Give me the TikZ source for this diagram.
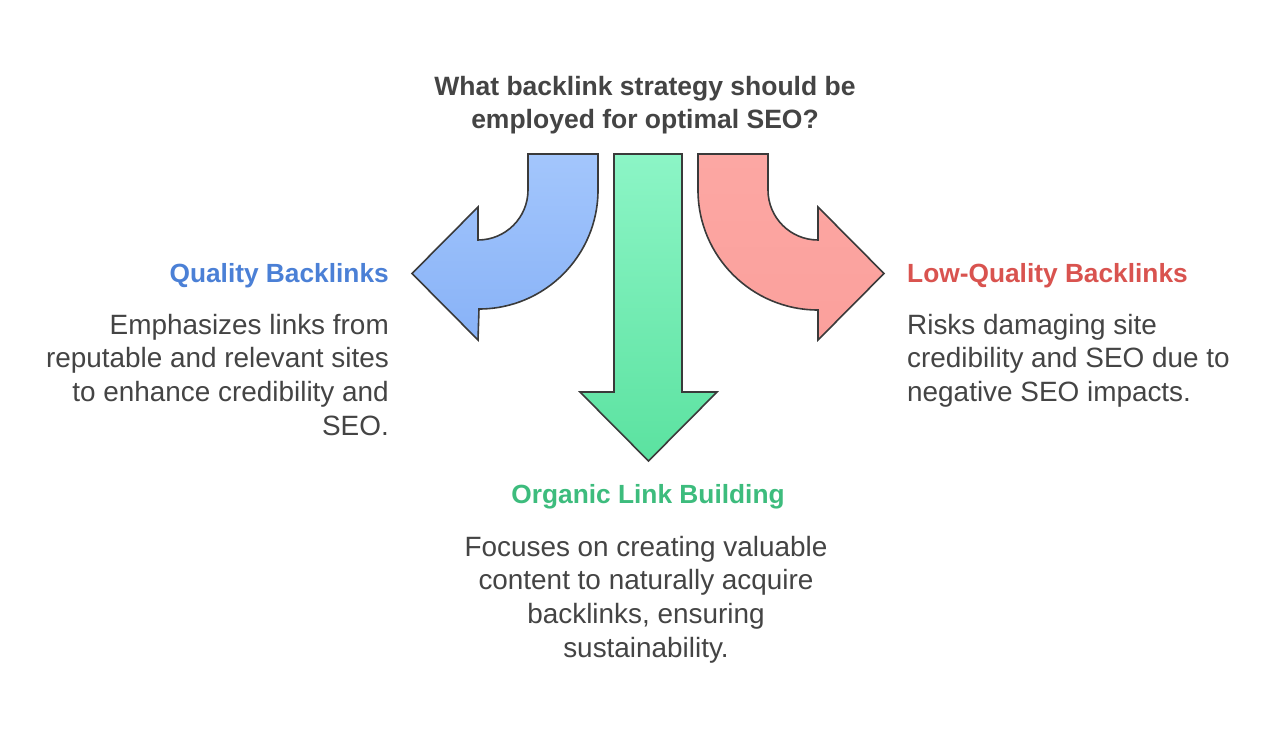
\documentclass[tikz,border=0pt]{standalone}
\usepackage{fontspec}
\setmainfont{Liberation Sans}
\definecolor{strokec}{HTML}{3A3A3A}
\definecolor{textc}{HTML}{444444}
\definecolor{bluetop}{HTML}{A3C6FC}
\definecolor{bluebot}{HTML}{88B2F7}
\definecolor{redtop}{HTML}{FCA7A3}
\definecolor{redbot}{HTML}{FBA09C}
\definecolor{greentop}{HTML}{8CF5C6}
\definecolor{greenbot}{HTML}{5BE2A0}
\definecolor{blueh}{HTML}{4B80D6}
\definecolor{redh}{HTML}{D9534F}
\definecolor{greenh}{HTML}{3DBC7D}
\tikzset{
  arrowshape/.style={draw=strokec, line width=1.6pt, line join=miter},
  titletext/.style={text=textc, font=\fontsize{26.5}{33}\selectfont\bfseries, align=center, inner sep=0pt},
  headtext/.style={font=\fontsize{26.3}{32}\selectfont\bfseries, inner sep=0pt},
  bodytext/.style={text=textc, font=\fontsize{27.9}{33.7}\selectfont, inner sep=0pt},
}
\begin{document}
\begin{tikzpicture}[x=1pt,y=-1pt]
\path[fill=white, use as bounding box] (0,0) rectangle (1280,735);

% blue curved arrow (left)
\path[arrowshape, top color=bluetop, bottom color=bluebot]
  (528,154) -- (598,154) -- (598,190)
  arc[start angle=0, end angle=90, radius=119] -- (478,340) -- (412,273.5) -- (478,207) -- (478,240)
  arc[start angle=90, end angle=0, radius=50] -- cycle;

% red curved arrow (right)
\path[arrowshape, top color=redtop, bottom color=redbot]
  (768,154) -- (698,154) -- (698,190)
  arc[start angle=180, end angle=90, radius=120] -- (818,340) -- (884,273.5) -- (818,207) -- (818,240)
  arc[start angle=90, end angle=180, radius=50] -- cycle;

% green straight arrow (down)
\path[arrowshape, top color=greentop, bottom color=greenbot]
  (614,154) -- (682,154) -- (682,392) -- (717,392) -- (648.5,461) -- (580,392) -- (614,392) -- cycle;

% multi-line nodes: base anchor is the baseline of the last line
\node[titletext, anchor=base] (title) at (645,128.5) {What backlink strategy should be\\employed for optimal SEO?};

\node[headtext, text=blueh, anchor=base east] (qhead) at (389,282.5) {Quality Backlinks};
\node[bodytext, align=right, anchor=base east] (qbody) at (389,435.1) {Emphasizes links from\\reputable and relevant sites\\to enhance credibility and\\SEO.};

\node[headtext, text=redh, anchor=base west] (lhead) at (907,282.5) {Low-Quality Backlinks};
\node[bodytext, align=left, anchor=base west] (lbody) at (907,401.4) {Risks damaging site\\credibility and SEO due to\\negative SEO impacts.};

\node[headtext, text=greenh, anchor=base] (ohead) at (648,503) {Organic Link Building};
\node[bodytext, align=center, anchor=base] (obody) at (646,657.1) {Focuses on creating valuable\\content to naturally acquire\\backlinks, ensuring\\sustainability.};
\end{tikzpicture}
\end{document}
